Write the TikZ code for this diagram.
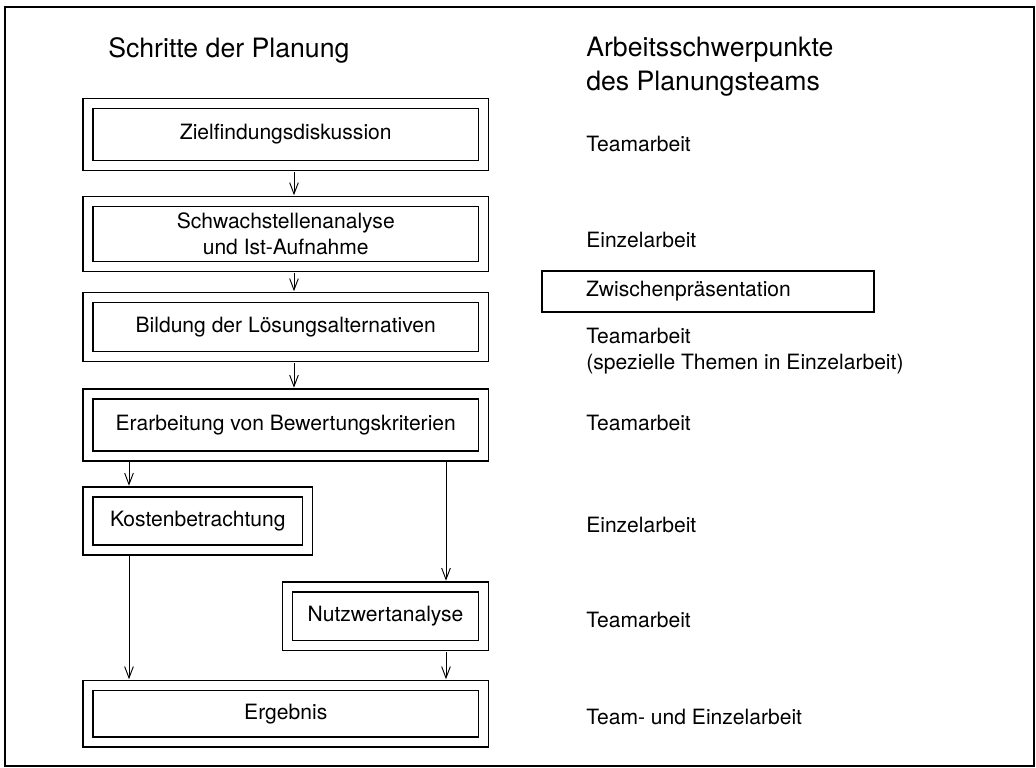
\documentclass[tikz,border=0pt]{standalone}
\usepackage{fontspec}
\setmainfont{TeX Gyre Heros}
\usetikzlibrary{arrows.meta}

\begin{document}
\begin{tikzpicture} [
    x=0.75pt, y=-0.75pt,
    stepbox/.style = {draw, line width=1pt, double, double distance=6.4pt, minimum width=296.6pt, align=center, font=\fontsize{15.8}{19.5}\selectfont},
    work/.style = {anchor=west, inner sep=0pt, align=left, font=\fontsize{15.8}{19.5}\selectfont},
    heading/.style = {anchor=west, inner sep=0pt, align=left, font=\fontsize{20}{25.5}\selectfont},
    flow/.style = {-{Straight Barb[length=8.5pt,width=6.5pt]}, line width=0.7pt, shorten <=4.2pt, shorten >=4.2pt}
    ]
    \useasboundingbox (0,0) rectangle (1036,768);
    \draw[line width=1pt] (5,7) rectangle (1034,766);

    \node[heading] (left) at (108,50) {Schritte der Planung};
    \node[heading] (right) at (586,67) {Arbeitsschwerpunkte\\des Planungsteams};

    \node[stepbox, minimum height=46.5pt] (Z) at (285.75,134.5) {Zielfindungsdiskussion};
    \node[stepbox, minimum height=48.75pt] (S) at (285.75,234) {Schwachstellenanalyse\\und Ist-Aufnahme};
    \node[stepbox, minimum height=44.25pt] (B) at (285.75,327) {Bildung der Lösungsalternativen};
    \node[stepbox, minimum height=46.5pt] (E) at (285.75,425) {Erarbeitung von Bewertungskriterien};
    \node[stepbox, minimum width=164.6pt, minimum height=43.5pt] (K) at (197.75,521) {Kostenbetrachtung};
    \node[stepbox, minimum width=147pt, minimum height=43.9pt] (N) at (385.5,616.25) {Nutzwertanalyse};
    \node[stepbox, minimum height=42.4pt] (R) at (285.75,713.75) {Ergebnis};

    \coordinate (mx) at (294,0);
    \coordinate (lx) at (129,0);
    \coordinate (rx) at (446,0);

    \draw[flow] (Z.south -| mx) -- (S.north -| mx);
    \draw[flow] (S.south -| mx) -- (B.north -| mx);
    \draw[flow] (B.south -| mx) -- (E.north -| mx);
    \draw[flow] (E.south -| lx) -- (K.north -| lx);
    \draw[flow] (E.south -| rx) -- (N.north -| rx);
    \draw[flow] (K.south -| lx) -- (R.north -| lx);
    \draw[flow] (N.south -| rx) -- (R.north -| rx);

    \node[work] (w1) at (586,144) {Teamarbeit};
    \node[work] (w2) at (586,240) {Einzelarbeit};
    \node[draw, line width=1pt, align=left, text width=183pt, inner xsep=33pt, minimum height=30.75pt, font=\fontsize{15.8}{19.5}\selectfont] (zp) at (708,291.5) {Zwischenpräsentation};
    \node[work] (w3) at (586,351) {Teamarbeit\\(spezielle Themen in Einzelarbeit)};
    \node[work] (w4) at (586,423) {Teamarbeit};
    \node[work] (w5) at (586,525) {Einzelarbeit};
    \node[work] (w6) at (586,620) {Teamarbeit};
    \node[work] (w7) at (586,717) {Team- und Einzelarbeit};
\end{tikzpicture}
\end{document}
